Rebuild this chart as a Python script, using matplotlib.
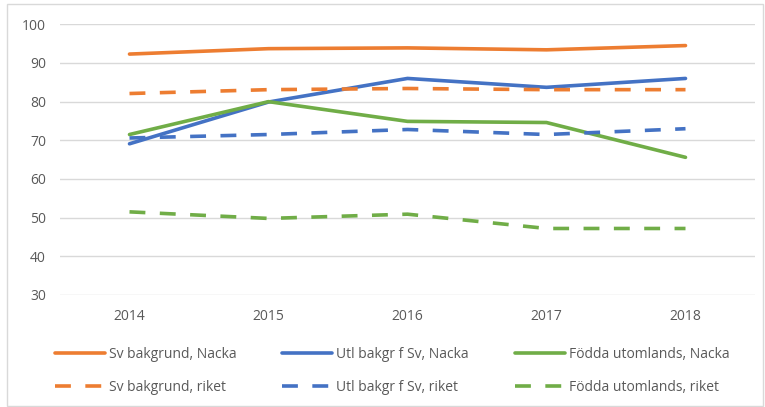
import matplotlib.pyplot as plt
from matplotlib.patches import Rectangle

years = ["2014", "2015", "2016", "2017", "2018"]

sv_nacka = [92.3, 93.7, 93.9, 93.4, 94.5]
utl_nacka = [69.1, 79.9, 86.0, 83.7, 86.0]
fodda_nacka = [71.5, 80.0, 74.9, 74.6, 65.6]
sv_riket = [82.1, 83.1, 83.4, 83.1, 83.1]
utl_riket = [70.6, 71.5, 72.8, 71.5, 73.0]
fodda_riket = [51.5, 49.8, 50.9, 47.2, 47.2]

orange = "#ED7D31"
blue = "#4472C4"
green = "#70AD47"

plt.rcParams['font.family'] = ['Open Sans', 'DejaVu Sans']

fig = plt.figure(figsize=(7.65, 4.07), dpi=100)
ax = fig.add_axes([60 / 765, 1 - 295 / 407, 695 / 765, (295 - 24.3) / 407])

x = range(len(years))
lw = 2.6
dash = (0, (4.4, 4))
l1, = ax.plot(x, sv_nacka, color=orange, lw=lw, solid_capstyle='round')
l2, = ax.plot(x, utl_nacka, color=blue, lw=lw, solid_capstyle='round')
l3, = ax.plot(x, fodda_nacka, color=green, lw=lw, solid_capstyle='round')
l4, = ax.plot(x, sv_riket, color=orange, lw=lw, ls=dash)
l5, = ax.plot(x, utl_riket, color=blue, lw=lw, ls=dash)
l6, = ax.plot(x, fodda_riket, color=green, lw=lw, ls=dash)

ax.set_xlim(-0.5, 4.5)
ax.set_ylim(30, 100)
ax.set_yticks(range(30, 101, 10))
ax.set_xticks(list(x))
ax.set_xticklabels(years)
ax.grid(axis='y', color='#D9D9D9', lw=1)
ax.set_axisbelow(True)
for s in ax.spines.values():
    s.set_visible(False)
ax.tick_params(length=0, labelsize=10, colors='#595959')
ax.tick_params(axis='y', pad=10)
ax.tick_params(axis='x', pad=10)

handles = [l1, l4, l2, l5, l3, l6]
labels = ["Sv bakgrund, Nacka", "Sv bakgrund, riket",
          "Utl bakgr f Sv, Nacka", "Utl bakgr f Sv, riket",
          "Födda utomlands, Nacka", "Födda utomlands, riket"]
leg = fig.legend(handles, labels, ncol=3, loc='upper left',
                 bbox_to_anchor=(49 / 765, 1 - 341 / 407), frameon=False,
                 fontsize=10, handlelength=3.6, handletextpad=0.3,
                 columnspacing=3.3, labelspacing=1.35, borderaxespad=0)
for t in leg.get_texts():
    t.set_color('#595959')

fig.patches.append(Rectangle((7 / 765, 0.002), 756 / 765, 1 - 4 / 407 - 0.002,
                             transform=fig.transFigure, fill=False,
                             edgecolor='#D9D9D9', lw=1))

fig.savefig("out.png", dpi=100)
